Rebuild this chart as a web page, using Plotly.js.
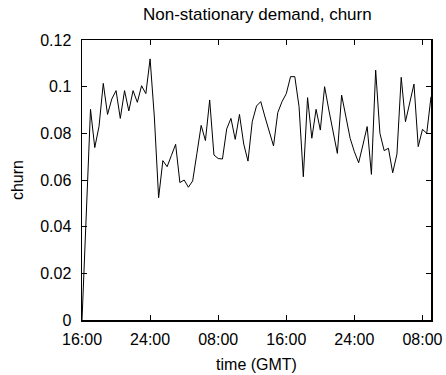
<!DOCTYPE html>
<html>
<head>
<meta charset="utf-8">
<script src="https://cdn.plot.ly/plotly-3.0.1.min.js"></script>
<style>html,body{margin:0;padding:0;background:#fff;}#chart{width:446px;height:375px;}</style>
</head>
<body>
<div id="chart"></div>
<script>
// churn sampled every half hour, starting 16:00 GMT
const churn = [
  0, 0.045, 0.0903, 0.0739, 0.083, 0.1014, 0.0881, 0.0947, 0.0983, 0.0864,
  0.0983, 0.0896, 0.0983, 0.0933, 0.1004, 0.097, 0.1119, 0.087, 0.0524, 0.0683,
  0.0657, 0.0705, 0.0753, 0.0589, 0.060, 0.0569, 0.0596, 0.0714, 0.0834, 0.0769,
  0.0943, 0.0707, 0.0692, 0.069, 0.0819, 0.0864, 0.0774, 0.0881, 0.0754, 0.0681,
  0.085, 0.0917, 0.0936, 0.087, 0.081, 0.0746, 0.0889, 0.0936, 0.097, 0.1043,
  0.1043, 0.0914, 0.0614, 0.0953, 0.0779, 0.0903, 0.0814, 0.100, 0.090, 0.081,
  0.0714, 0.0964, 0.0871, 0.0779, 0.0721, 0.0674, 0.075, 0.0829, 0.0624, 0.1071,
  0.080, 0.0726, 0.0736, 0.0631, 0.0711, 0.104, 0.085, 0.0929, 0.1011, 0.0743,
  0.0817, 0.080, 0.0957
];
const stepHours = 0.5;
const hours = churn.map((_, i) => i * stepHours);
const xTickVals = [0, 8, 16, 24, 32, 40];
const xTickText = ['16:00', '24:00', '08:00', '16:00', '24:00', '08:00'];
const yTickVals = [0, 0.02, 0.04, 0.06, 0.08, 0.1, 0.12];
const yTickText = ['0', '0.02', '0.04', '0.06', '0.08', '0.1', '0.12'];

const font = {family: 'Liberation Sans, Arial, sans-serif', size: 16, color: '#000'};

Plotly.newPlot('chart', [{
  x: hours, y: churn, type: 'scatter', mode: 'lines',
  line: {color: '#000', width: 1}, hoverinfo: 'skip'
}], {
  width: 446, height: 375,
  margin: {l: 82, r: 15, t: 40, b: 55},
  paper_bgcolor: '#fff', plot_bgcolor: '#fff',
  font: font,
  showlegend: false,
  title: {text: 'Non-stationary demand, churn', font: {family: font.family, size: 17, color: '#000'},
          x: 0.577, xanchor: 'center', y: 0.962, yanchor: 'middle'},
  xaxis: {
    range: [0, 41], tickvals: xTickVals, ticktext: xTickText,
    ticks: 'inside', ticklen: 5, tickcolor: '#000', mirror: 'allticks',
    showline: true, linecolor: '#000', linewidth: 1.5,
    showgrid: false, zeroline: false, tickfont: font, ticklabelstandoff: 4,
    title: {text: 'time (GMT)', font: font, standoff: 12}
  },
  yaxis: {
    range: [0, 0.12], tickvals: yTickVals, ticktext: yTickText,
    ticks: 'inside', ticklen: 5, tickcolor: '#000', mirror: 'allticks',
    showline: true, linecolor: '#000', linewidth: 1.5,
    showgrid: false, zeroline: false, tickfont: font, ticklabelstandoff: 6,
    title: {text: 'churn', font: font, standoff: 12}
  }
}, {staticPlot: true});
</script>
</body>
</html>
